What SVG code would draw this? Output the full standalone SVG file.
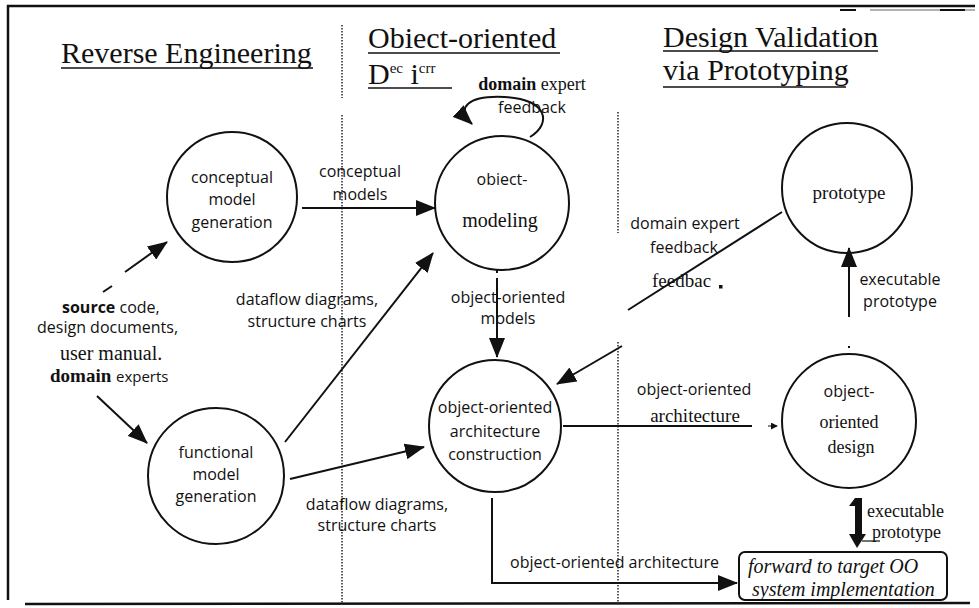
<svg xmlns="http://www.w3.org/2000/svg" width="979" height="608" viewBox="0 0 979 608">
<style>
.frame{stroke:#111;stroke-width:2.5;fill:none}
.div{stroke:#333;stroke-width:1.6;stroke-dasharray:1.5 1.5;fill:none}
.node{fill:none;stroke:#111;stroke-width:2}
.ln{stroke:#111;stroke-width:2;fill:none}
.title{font-family:"Liberation Serif","Times New Roman",serif;font-size:30px;fill:#111}
.sans{font-family:"Open Sans","Liberation Sans",sans-serif;font-size:16px;fill:#111}
.serif{font-family:"Liberation Serif","Times New Roman",serif;font-size:18px;fill:#111}
.c{text-anchor:middle}
.b{font-weight:bold}
</style>
<defs>
<marker id="ah" viewBox="0 0 20 16" refX="19" refY="8" markerWidth="20" markerHeight="16" markerUnits="userSpaceOnUse" orient="auto"><path d="M0,0 L20,8 L0,16 z" fill="#111"/></marker>
<marker id="ahs" viewBox="0 0 8 8" refX="7" refY="4" markerWidth="7" markerHeight="7" markerUnits="userSpaceOnUse" orient="auto"><path d="M0,0 L8,4 L0,8 z" fill="#111"/></marker>
</defs>
<rect width="979" height="608" fill="#fff"/>

<g id="frame">
<path class="frame" d="M8,600 L8,6 L975,6"/>
<path class="frame" d="M25,604 L970,603"/>
<path d="M840,10 L856,10" stroke="#111" stroke-width="2"/>
<path d="M870,10 L975,10" stroke="#999" stroke-width="1.5"/>
<path d="M940,10 L965,10" stroke="#111" stroke-width="2"/>
<path class="div" d="M342,25 L342,98 M342,115 L342,605"/>
<path class="div" d="M618,112 L618,233 M618,342 L618,605"/>
</g>

<g id="titles">
<text class="title" x="61" y="63">Reverse Engineering</text>
<line x1="61" y1="68" x2="313" y2="68" stroke="#111" stroke-width="1.5"/>
<text class="title" x="368" y="48">Obiect-oriented</text>
<line x1="368" y1="53" x2="560" y2="53" stroke="#111" stroke-width="1.5"/>
<text class="title" x="368" y="84">D<tspan font-size="15" dy="-11">ec</tspan><tspan dy="11"> i</tspan><tspan font-size="15" dy="-11">crr</tspan></text>
<line x1="368" y1="88" x2="452" y2="88" stroke="#111" stroke-width="1.5"/>
<text class="title" x="663" y="47">Design Validation</text>
<line x1="663" y1="51" x2="878" y2="51" stroke="#111" stroke-width="1.5"/>
<text class="title" x="663" y="80">via Prototyping</text>
<line x1="663" y1="87" x2="846" y2="87" stroke="#111" stroke-width="1.5"/>
</g>

<g id="n-conceptual">
<circle class="node" cx="232" cy="197" r="65"/>
<text class="sans c" x="232" y="183">conceptual</text>
<text class="sans c" x="232" y="205">model</text>
<text class="sans c" x="232" y="228">generation</text>
</g>

<g id="n-objmodel">
<circle class="node" cx="502" cy="203" r="67"/>
<text class="sans c" x="502" y="185">obiect-</text>
<text class="serif c" x="500" y="227" style="font-size:20px">modeling</text>
</g>

<g id="n-ooac">
<circle class="node" cx="495" cy="426" r="66"/>
<text class="sans c" x="495" y="413">object-oriented</text>
<text class="sans c" x="495" y="437">architecture</text>
<text class="sans c" x="495" y="460">construction</text>
</g>

<g id="n-functional">
<circle class="node" cx="216" cy="476" r="68"/>
<text class="sans c" x="216" y="458">functional</text>
<text class="sans c" x="216" y="480">model</text>
<text class="sans c" x="216" y="502">generation</text>
</g>

<g id="n-prototype">
<circle class="node" cx="847" cy="188" r="65"/>
<text class="serif c" x="849" y="199" style="font-size:19px">prototype</text>
</g>

<g id="n-ood">
<circle class="node" cx="849" cy="421" r="67"/>
<text class="sans c" x="849" y="397">object-</text>
<text class="serif c" x="849" y="428">oriented</text>
<text class="serif c" x="851" y="453">design</text>
</g>

<g id="n-forward">
<rect x="739" y="552" width="208" height="48" rx="6" fill="none" stroke="#111" stroke-width="2"/>
<text class="serif" x="748" y="573" style="font-style:italic;font-size:20px">forward to target OO</text>
<text class="serif" x="752" y="596" style="font-style:italic;font-size:20px">system implementation</text>
</g>

<g id="n-sources">
<text class="sans" x="62" y="313"><tspan class="b">source</tspan> code,</text>
<text class="sans" x="37" y="333">design documents,</text>
<text class="serif" x="60" y="360" style="font-size:20px">user manual.</text>
<text class="serif" x="50" y="382" style="font-size:19px"><tspan class="b">domain</tspan> <tspan style="font-family:'Open Sans','Liberation Sans',sans-serif;font-size:15px">experts</tspan></text>
</g>

<g id="connectors">
<line class="ln" x1="125" y1="272" x2="167" y2="242" marker-end="url(#ah)"/>
<line class="ln" x1="103" y1="292" x2="112" y2="286"/>
<line class="ln" x1="97" y1="396" x2="147" y2="443" marker-end="url(#ah)"/>
<line class="ln" x1="302" y1="208" x2="435" y2="208" marker-end="url(#ah)"/>
<line class="ln" x1="285" y1="442" x2="433" y2="253" marker-end="url(#ah)"/>
<line class="ln" x1="290" y1="479" x2="424" y2="447" marker-end="url(#ah)"/>
<line class="ln" x1="497" y1="270" x2="497" y2="273"/>
<line class="ln" x1="497" y1="278" x2="497" y2="357" marker-end="url(#ah)"/>
<path class="ln" d="M530,137 C552,124 548,99 505,97 C468,95 455,108 472,124" marker-end="url(#ah)"/>
<line class="ln" x1="782" y1="212" x2="628" y2="310"/>
<line class="ln" x1="622" y1="346" x2="557" y2="384" marker-end="url(#ah)"/>
<line class="ln" x1="849" y1="317" x2="849" y2="248" marker-end="url(#ah)"/>
<rect x="848" y="346" width="2" height="2" fill="#111"/>
<line class="ln" x1="563" y1="426" x2="752" y2="426"/>
<line x1="768" y1="426" x2="777" y2="426" stroke="#111" stroke-width="1" marker-end="url(#ahs)"/>
<path class="ln" d="M492,498 L492,583 L737,583" marker-end="url(#ah)"/>
<path d="M855,498 L862,498 L862,536 L855,536 Z M855,498 L849,506 L855,506 Z" fill="#111"/>
<path d="M849,534 L866,534 L857,548 Z" fill="#111"/>
<line x1="862" y1="541" x2="880" y2="541" stroke="#111" stroke-width="1.2"/>
<rect x="719" y="285" width="3.5" height="3.5" fill="#111"/>
</g>

<g id="labels">
<text class="sans c" x="360" y="177">conceptual</text>
<text class="sans c" x="360" y="200">models</text>
<text class="sans c" x="307" y="305">dataflow diagrams,</text>
<text class="sans c" x="307" y="327">structure charts</text>
<text class="sans c" x="508" y="303">object-oriented</text>
<text class="sans c" x="508" y="324">models</text>
<text class="serif c" x="532" y="90"><tspan class="b">domain</tspan> expert</text>
<text class="sans c" x="532" y="113">feedback</text>
<text class="sans c" x="685" y="229">domain expert</text>
<text class="sans c" x="684" y="253">feedback</text>
<text class="serif" x="652" y="287" style="font-size:19px">feedbac</text>
<text class="sans c" x="900" y="285">executable</text>
<text class="sans c" x="900" y="307">prototype</text>
<text class="sans c" x="694" y="395">object-oriented</text>
<text class="serif c" x="695" y="422" style="font-size:19px">architecture</text>
<text class="sans c" x="377" y="510">dataflow diagrams,</text>
<text class="sans c" x="377" y="531">structure charts</text>
<text class="sans" x="510" y="568">object-oriented architecture</text>
<text class="serif" x="867" y="517">executable</text>
<text class="serif" x="872" y="538">prototype</text>
</g>
</svg>
